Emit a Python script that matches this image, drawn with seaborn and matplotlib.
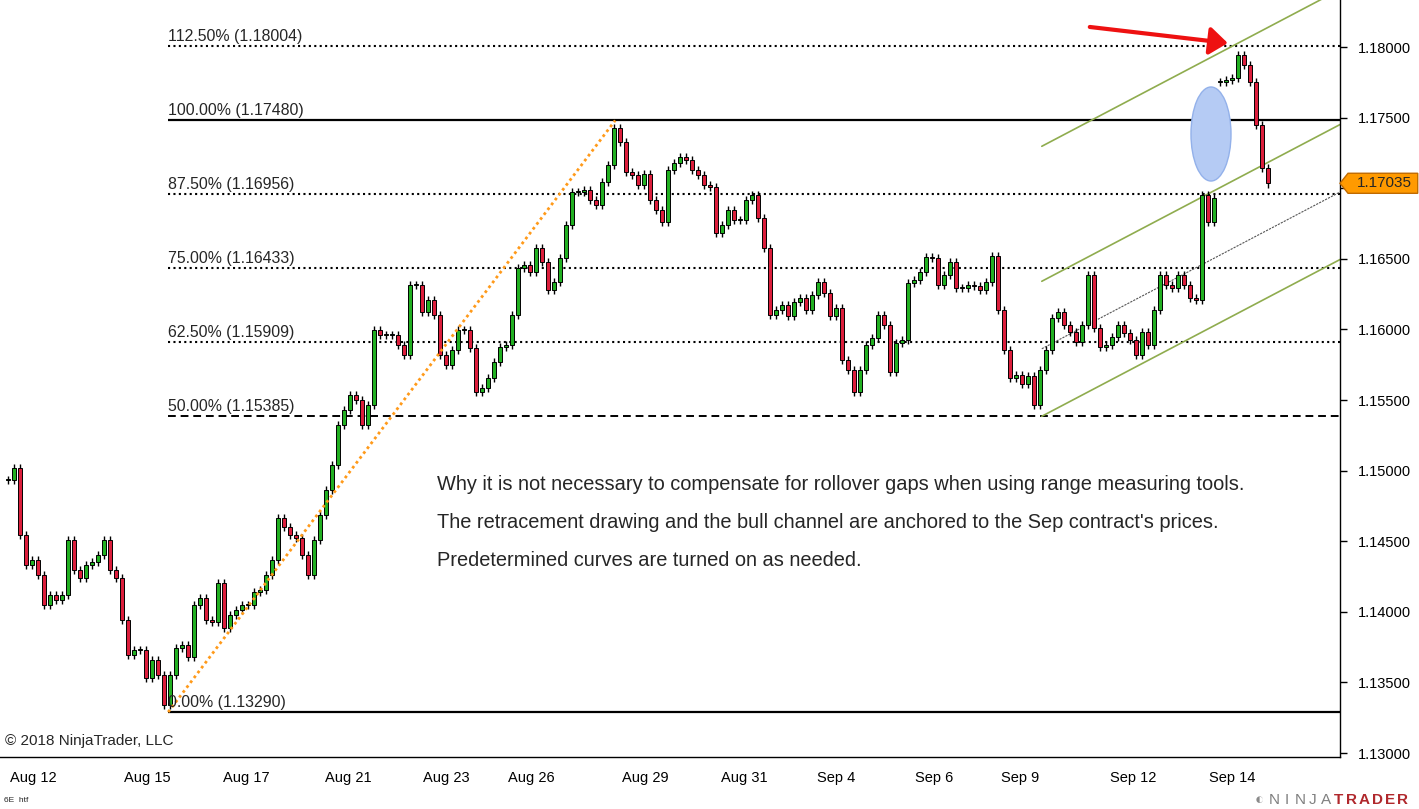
import matplotlib
matplotlib.use("Agg")
import numpy as np
import pandas as pd
import seaborn as sns
import matplotlib.pyplot as plt
from matplotlib.patches import Ellipse, Polygon

# closes, one bar every ~6 px (Sep contract, then Dec after the roll)
sep_close = [
    1.14934, 1.15019, 1.14544, 1.14332, 1.14367, 1.14261, 1.14048, 1.14119, 1.14084, 1.14119,
    1.14509, 1.14296, 1.14240, 1.14332, 1.14353, 1.14403, 1.14509, 1.14296, 1.14240, 1.13942,
    1.13694, 1.13730, 1.13730, 1.13531, 1.13659, 1.13553, 1.13340, 1.13553, 1.13744, 1.13765,
    1.13680, 1.14048, 1.14098, 1.13942, 1.13928, 1.14204, 1.13886, 1.13978, 1.14013, 1.14048,
    1.14048, 1.14141, 1.14155, 1.14261, 1.14367, 1.14665, 1.14601, 1.14544, 1.14523, 1.14403,
    1.14261, 1.14509, 1.14686, 1.14863, 1.15040, 1.15323, 1.15429, 1.15536, 1.15500, 1.15323,
    1.15465, 1.15996, 1.15961, 1.15961, 1.15961, 1.15890, 1.15819, 1.16315, 1.16315, 1.16123,
    1.16208, 1.16102, 1.15819, 1.15748, 1.15854, 1.15996, 1.15996, 1.15869, 1.15557, 1.15585,
    1.15656, 1.15769, 1.15876, 1.15890, 1.16102, 1.16435, 1.16456, 1.16407, 1.16577, 1.16478,
    1.16279, 1.16336, 1.16506, 1.16740, 1.16973, 1.16973, 1.16987, 1.16917, 1.16881, 1.17044,
    1.17165, 1.17427, 1.17327, 1.17115, 1.17094, 1.17023, 1.17101, 1.16917, 1.16846, 1.16761,
    1.17129, 1.17179, 1.17221, 1.17200, 1.17129, 1.17094, 1.17023, 1.17009, 1.16683, 1.16740,
    1.16846, 1.16775, 1.16775, 1.16917, 1.16952, 1.16789, 1.16577, 1.16102, 1.16138, 1.16173,
    1.16095, 1.16194, 1.16223, 1.16138, 1.16244, 1.16336, 1.16258, 1.16095, 1.16152, 1.15784,
    1.15713, 1.15557, 1.15713, 1.15890, 1.15939, 1.16102, 1.16031, 1.15699, 1.15904, 1.15925,
    1.16329, 1.16350, 1.16407, 1.16513, 1.16506, 1.16315, 1.16385, 1.16478, 1.16293, 1.16293,
    1.16315, 1.16308, 1.16279, 1.16336, 1.16520, 1.16138, 1.15854, 1.15656, 1.15677, 1.15614,
    1.15670, 1.15465, 1.15713, 1.15854, 1.16081, 1.16123, 1.16031, 1.15982, 1.15911, 1.16031,
    1.16385, 1.16010, 1.15876, 1.15890, 1.15946, 1.16031, 1.15975, 1.15925, 1.15819, 1.15982,
    1.15890, 1.16138, 1.16385, 1.16315, 1.16293, 1.16385, 1.16315, 1.16223, 1.16209, 1.16952,
    1.16761, 1.16931,
]
dec_close = [1.17752, 1.17766, 1.17781, 1.17944, 1.17873, 1.17752, 1.17448, 1.17143, 1.17035]
wick = 0.0003

tick_pos = [4.3, 15.2, 23.3, 31.5, 39.8, 45.8, 48.2, 56.7, 64.8, 73.0, 81.3, 87.3, 97.8,
            106.2, 114.3, 122.7, 128.8, 131.0, 138.0, 146.2, 154.3, 162.7, 168.7, 179.2,
            187.5, 195.8, 204.0]
tick_text = ["Aug 12", "", "Aug 15", "", "Aug 17", "", "", "Aug 21", "", "Aug 23", "",
             "Aug 26", "", "Aug 29", "", "Aug 31", "", "", "Sep 4", "", "Sep 6", "",
             "Sep 9", "", "Sep 12", "", "Sep 14"]
price_ticks = [1.130, 1.135, 1.140, 1.145, 1.150, 1.155, 1.160, 1.165, 1.170, 1.175, 1.180]

fib_label = ["0.00%", "50.00%", "62.50%", "75.00%", "87.50%", "100.00%", "112.50%"]
fib_price = [1.13290, 1.15385, 1.15909, 1.16433, 1.16956, 1.17480, 1.18004]
fib_start = 26.7
swing_high_bar = 101.2

channel_start = 172.3
channel_end = 222.0
channel_low = [1.15385, 1.16495]
channel_width = 0.00956

last_price = 1.17035

notes = [
    "Why it is not necessary to compensate for rollover gaps when using range measuring tools.",
    "The retracement drawing and the bull channel are anchored to the Sep contract's prices.",
    "Predetermined curves are turned on as needed.",
]


def candles(closes, first_bar):
    c = np.array(closes)
    o = np.r_[c[0], c[:-1]]
    return pd.DataFrame({
        "x": np.arange(first_bar, first_bar + len(c)),
        "open": o, "close": c,
        "high": np.maximum(o, c) + wick,
        "low": np.minimum(o, c) - wick,
    })


bars = pd.concat([candles(sep_close, 0), candles(dec_close, len(sep_close))],
                 ignore_index=True)

sns.set_style("white")
plt.rcParams["font.family"] = ["Liberation Sans", "DejaVu Sans"]

fig = plt.figure(figsize=(14.19, 8.09), dpi=100)
ax = fig.add_axes([0, 52 / 809, 1340 / 1419, 757 / 809])
ax.set_xlim(-1.33, 222)
ax.set_ylim(1.12972, 1.18333)

# candles
ax.vlines(bars.x, bars.low, bars.high, color="black", lw=1, zorder=3)
body = (bars.close - bars.open).abs().clip(lower=0.00005)
colors = np.where(bars.close >= bars.open, "#22b022", "#dc1e3c")
ax.bar(bars.x, body, bottom=np.minimum(bars.open, bars.close), width=0.55,
       color=colors, edgecolor="black", lw=0.7, zorder=4)

# retracement levels
for lbl, p in zip(fib_label, fib_price):
    if lbl in ("0.00%", "100.00%"):
        ls, lw = "-", 1.6
    elif lbl == "50.00%":
        ls, lw = (0, (4, 2.5)), 1.4
    else:
        ls, lw = (0, (1, 1.6)), 1.5
    ax.hlines(p, fib_start, 222, colors="black", linestyles=ls, lw=lw, zorder=2)
    ax.annotate(f"{lbl} ({p:.5f})", xy=(fib_start, p), xytext=(0, 1.5),
                textcoords="offset points", ha="left", va="bottom", fontsize=11.4, zorder=6)

sns.lineplot(x=[fib_start, swing_high_bar], y=[fib_price[0], fib_price[5]], ax=ax,
             color="#ff9a1a", lw=2, linestyle=(0, (1, 1.2)), zorder=5)

# bull channel
for k in (0, 1, 2):
    sns.lineplot(x=[channel_start, channel_end],
                 y=[channel_low[0] + k * channel_width, channel_low[1] + k * channel_width],
                 ax=ax, color="#8fac4e", lw=1.2, zorder=2)
sns.lineplot(x=[channel_start, channel_end],
             y=[channel_low[0] + 0.5 * channel_width, channel_low[1] + 0.5 * channel_width],
             ax=ax, color="#555555", lw=0.8, linestyle=(0, (2, 1)), zorder=2)

ax.add_patch(Ellipse((200.5, 1.17384), width=6.67, height=0.00666,
                     facecolor="#b5cbf4", edgecolor="#93b1ea", lw=1, zorder=5))

ax.annotate("", xy=(203.3, 1.18028), xytext=(180.3, 1.18142),
            arrowprops=dict(arrowstyle="-|>,head_length=0.55,head_width=0.42",
                            mutation_scale=20, color="#ee1111", lw=3,
                            shrinkA=0, shrinkB=0), zorder=6)

# last price marker (covers the 1.17000 label, as in the platform)
tr = ax.get_yaxis_transform()
h = 0.00071
ax.add_patch(Polygon([(1.0, last_price), (1.006, last_price + h), (1.058, last_price + h),
                      (1.058, last_price - h), (1.006, last_price - h)],
                     closed=True, transform=tr, clip_on=False,
                     facecolor="#ff9a00", edgecolor="#c06a00", lw=1, zorder=10))
ax.text(1.033, last_price, f"{last_price:.5f}", transform=tr, ha="center", va="center",
        fontsize=11, zorder=11, clip_on=False)

# axes
for side in ("left", "top"):
    ax.spines[side].set_visible(False)
for side in ("right", "bottom"):
    ax.spines[side].set_color("black")
    ax.spines[side].set_linewidth(1)
ax.yaxis.tick_right()
ax.set_yticks(price_ticks)
ax.set_yticklabels(["" if abs(t - 1.17) < 1e-9 else f"{t:.5f}" for t in price_ticks])
ax.set_xticks(tick_pos)
ax.set_xticklabels(tick_text)
ax.tick_params(axis="y", direction="out", length=5, width=1, pad=8, labelsize=10.5,
               colors="black")
ax.tick_params(axis="x", direction="out", length=6, width=1, pad=4, labelsize=10.5,
               colors="black")
ax.set_xlabel("")
ax.set_ylabel("")
ax.grid(False)

for i, line in enumerate(notes):
    fig.text(437 / 1419, 1 - (485 + 37.5 * i) / 809, line, ha="left", va="center",
             fontsize=14.4)

fig.text(5 / 1419, 1 - 741 / 809, "\u00a9 2018 NinjaTrader, LLC", ha="left",
         va="center", fontsize=11)
fig.text(4 / 1419, 1 - 800 / 809, "6E  htf", ha="left", va="center", fontsize=6)

# logo lettering, spaced out like the platform's wordmark
fig.text(1259 / 1419, 1 - 800 / 809, "\u25d0", ha="center", va="center", fontsize=11,
         color="#8a8a8a")
for n, ch in enumerate("NINJATRADER"):
    fig.text((1274 + 12.9 * n) / 1419, 1 - 800 / 809, ch, ha="center", va="center",
             fontsize=11, color="#808080" if n < 5 else "#b0282c",
             fontweight="normal" if n < 5 else "bold")

fig.savefig("out.png", dpi=100)
